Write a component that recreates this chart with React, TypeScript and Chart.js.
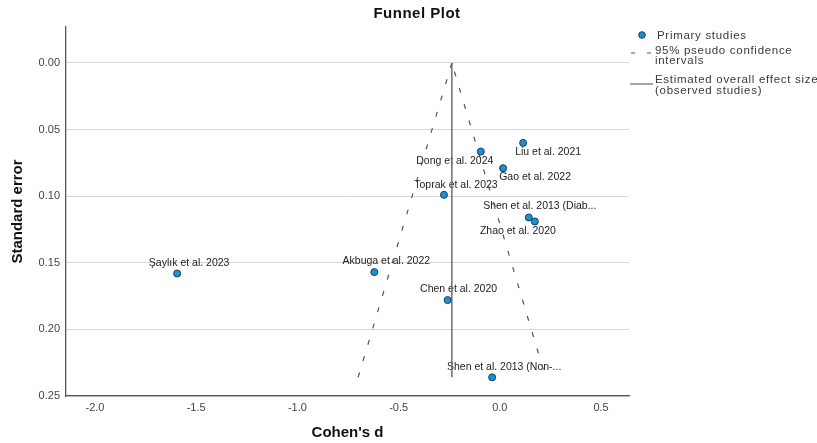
import React, { useEffect, useRef } from 'react';
import { Chart, registerables } from 'chart.js';

Chart.register(...registerables);

// ---- data ----
const studyNames = [
  'Liu et al. 2021',
  'Dong et al. 2024',
  'Gao et al. 2022',
  'Toprak et al. 2023',
  'Shen et al. 2013 (Diab...',
  'Zhao et al. 2020',
  'Chen et al. 2020',
  'Shen et al. 2013 (Non-...',
  'Şaylık et al. 2023',
  'Akbuga et al. 2022',
];
const cohensD = [0.115, -0.094, 0.016, -0.276, 0.143, 0.173, -0.258, -0.038, -1.594, -0.62];
const standardErrors = [0.06, 0.0665, 0.079, 0.099, 0.116, 0.119, 0.178, 0.236, 0.158, 0.157];

const overallD = [-0.237, -0.237];
const overallSE = [0, 0.236];
const ciLowerD = [-0.237, -0.7];
const ciUpperD = [-0.237, 0.226];
const ciSE = [0, 0.236];

const xTicks = [-2.0, -1.5, -1.0, -0.5, 0.0, 0.5];
const yTicks = [0, 0.05, 0.1, 0.15, 0.2, 0.25];

// ---- label placement (style, pixels) ----
const labelOffsets: [number, number][] = [
  [25, 9],
  [-26, 10],
  [32, 9],
  [12, -10],
  [11, -11],
  [-17, 10],
  [11, -11],
  [12, -10],
  [12, -10],
  [12, -11],
];

const FONT = '"Liberation Sans", Arial, sans-serif';
const POINT_FILL = '#1b8fd8';
const POINT_BORDER = '#1d3b57';

const annotatePlugin = {
  id: 'annotate',
  beforeDatasetsDraw(chart: any) {
    const ctx = chart.ctx as CanvasRenderingContext2D;
    const meta = chart.getDatasetMeta(0);
    ctx.save();
    ctx.font = `10.5px ${FONT}`;
    ctx.fillStyle = '#222';
    ctx.textAlign = 'center';
    ctx.textBaseline = 'middle';
    meta.data.forEach((pt: any, i: number) => {
      const [dx, dy] = labelOffsets[i];
      ctx.fillText(studyNames[i], pt.x + dx, pt.y + dy);
    });
    ctx.restore();
  },
  afterDraw(chart: any) {
    const ctx = chart.ctx as CanvasRenderingContext2D;
    const { right: R, top: T } = chart.chartArea;
    ctx.save();
    // title
    ctx.font = `bold 15px ${FONT}`;
    (ctx as any).letterSpacing = '0.5px';
    ctx.fillStyle = '#111';
    ctx.textAlign = 'center';
    ctx.textBaseline = 'middle';
    ctx.fillText('Funnel Plot', 417, 14);

    // legend
    ctx.textAlign = 'left';
    ctx.font = `11.5px ${FONT}`;
    (ctx as any).letterSpacing = '0.7px';
    // circle
    ctx.beginPath();
    ctx.arc(R + 13, T + 8, 3.3, 0, Math.PI * 2);
    ctx.fillStyle = POINT_FILL;
    ctx.fill();
    ctx.lineWidth = 1;
    ctx.strokeStyle = POINT_BORDER;
    ctx.stroke();
    ctx.fillStyle = '#3a3a3a';
    ctx.fillText('Primary studies', R + 28, T + 9);
    // dashed symbol
    ctx.strokeStyle = '#555';
    ctx.lineWidth = 1.2;
    ctx.beginPath();
    ctx.moveTo(R + 2, T + 26);
    ctx.lineTo(R + 6, T + 26);
    ctx.moveTo(R + 18, T + 26);
    ctx.lineTo(R + 22, T + 26);
    ctx.stroke();
    ctx.fillText('95% pseudo confidence', R + 26, T + 23.5);
    ctx.fillText('intervals', R + 26, T + 34);
    // solid symbol
    ctx.strokeStyle = '#888';
    ctx.lineWidth = 1.5;
    ctx.beginPath();
    ctx.moveTo(R + 1, T + 57);
    ctx.lineTo(R + 24, T + 57);
    ctx.stroke();
    ctx.fillText('Estimated overall effect size', R + 26, T + 52.5);
    ctx.fillText('(observed studies)', R + 26, T + 63.5);
    ctx.restore();
  },
};

export default function App() {
  const canvasRef = useRef<HTMLCanvasElement | null>(null);

  useEffect(() => {
    if (!canvasRef.current) return;
    const points = cohensD.map((d, i) => ({ x: d, y: standardErrors[i] }));
    const overall = overallD.map((d, i) => ({ x: d, y: overallSE[i] }));
    const lower = ciLowerD.map((d, i) => ({ x: d, y: ciSE[i] }));
    const upper = ciUpperD.map((d, i) => ({ x: d, y: ciSE[i] }));

    const chart = new Chart(canvasRef.current, {
      type: 'scatter',
      data: {
        datasets: [
          {
            label: 'Primary studies',
            data: points,
            pointRadius: 3.5,
            pointHoverRadius: 3.5,
            backgroundColor: POINT_FILL,
            borderColor: POINT_BORDER,
            borderWidth: 1,
            order: 0,
          },
          {
            label: '95% pseudo confidence intervals',
            data: lower,
            showLine: true,
            pointRadius: 0,
            borderColor: '#555',
            borderWidth: 1.2,
            borderDash: [5, 12],
            order: 1,
          },
          {
            label: '95% pseudo confidence intervals upper',
            data: upper,
            showLine: true,
            pointRadius: 0,
            borderColor: '#555',
            borderWidth: 1.2,
            borderDash: [5, 12],
            borderDashOffset: 8,
            order: 1,
          },
          {
            label: 'Estimated overall effect size',
            data: overall,
            showLine: true,
            pointRadius: 0,
            borderColor: '#6e6e6e',
            borderWidth: 1.5,
            order: 1,
          },
        ],
      },
      options: {
        animation: false,
        responsive: true,
        maintainAspectRatio: false,
        events: [],
        layout: { padding: { top: 27, right: 188, left: 0, bottom: 0 } },
        plugins: {
          legend: { display: false },
          tooltip: { enabled: false },
          title: { display: false },
        },
        scales: {
          x: {
            type: 'linear',
            min: -2.143,
            max: 0.638,
            afterFit: (scale: any) => {
              scale.height = 47;
            },
            afterBuildTicks: (scale: any) => {
              scale.ticks = xTicks.map((v) => ({ value: v }));
            },
            ticks: {
              callback: (v: any) => Number(v).toFixed(1),
              font: { family: FONT, size: 11 },
              color: '#444',
              padding: 5,
              maxRotation: 0,
              autoSkip: false,
            },
            grid: { display: false, drawTicks: false },
            border: { display: true, color: '#555', width: 1.3 },
            title: {
              display: true,
              text: "Cohen's d",
              font: { family: FONT, size: 15, weight: 'bold' },
              color: '#111',
              padding: { top: 0, bottom: 1 },
            },
          },
          y: {
            type: 'linear',
            reverse: true,
            min: -0.027,
            max: 0.25,
            afterFit: (scale: any) => {
              scale.width = 66;
            },
            afterBuildTicks: (scale: any) => {
              scale.ticks = yTicks.map((v) => ({ value: v }));
            },
            ticks: {
              callback: (v: any) => Number(v).toFixed(2),
              font: { family: FONT, size: 11 },
              color: '#444',
              padding: 6,
              autoSkip: false,
            },
            grid: { display: true, color: '#d6d6d6', lineWidth: 1, drawTicks: false },
            border: { display: true, color: '#555', width: 1.3 },
            title: {
              display: true,
              text: 'Standard error',
              font: { family: FONT, size: 15, weight: 'bold' },
              color: '#111',
              padding: { top: 9, bottom: 0 },
            },
          },
        },
      } as any,
      plugins: [annotatePlugin],
    });
    return () => chart.destroy();
  }, []);

  return (
    <div style={{ position: 'fixed', left: 0, top: 0, width: 817, height: 443, background: '#fff' }}>
      <canvas ref={canvasRef} />
    </div>
  );
}
